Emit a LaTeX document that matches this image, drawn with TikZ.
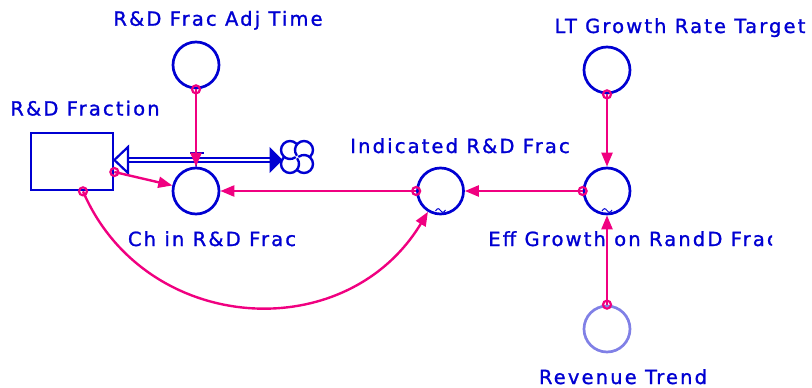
\documentclass[tikz,border=0pt]{standalone}
\usepackage{fontspec}
\setmainfont[LetterSpace=11,FakeBold=1.2]{DejaVu Sans}
\usetikzlibrary{arrows.meta,calc}
\definecolor{vblue}{RGB}{0,0,210}
\definecolor{vpink}{RGB}{240,0,128}
\definecolor{vlight}{RGB}{128,128,230}
\begin{document}
\begin{tikzpicture}[x=1pt,y=-1pt,
  aux/.style={circle, draw=vblue, line width=2.7pt, minimum size=46pt, inner sep=0pt},
  stockbox/.style={draw=vblue, line width=2.7pt, minimum width=82pt, minimum height=57pt, inner sep=0pt},
  lbl/.style={text=vblue, font=\fontsize{19.5}{22}\selectfont, anchor=base, inner sep=0pt},
  link/.style={vpink, line width=2.4pt, -{Triangle[length=14pt,width=11pt]}},
  tail/.style={circle, draw=vpink, line width=2.2pt, minimum size=8pt, inner sep=0pt},
  pipe/.style={vblue, line width=2.4pt, double=white, double distance=1.2pt},
  tildemark/.style={vblue, line width=1pt},
  cloudline/.style={vblue, line width=2.4pt, line cap=round}
]
\useasboundingbox (0,0) rectangle (812,388);

% nodes
\node[stockbox] (stock) at (72,161.5) {};
\node[aux] (adj) at (196,65) {};
\node[aux] (ch) at (196,191) {};
\node[aux] (ind) at (440.5,191) {};
\node[aux] (eff) at (607,191) {};
\node[aux] (lt) at (607,70) {};
\node[aux, draw=vlight] (rev) at (607,329) {};
\coordinate (cloud) at (297,157);

% cloud (pinwheel of four lobes)
\foreach \dx/\dy/\s in {-7/-7/45, 7/-7/315, 7/7/225, -7/7/135}{
  \draw[cloudline] ($(cloud)+(\dx,\dy)$) ++(\s:9pt) arc[start angle=\s, end angle=\s+260, radius=9pt];
}

% labels
\node[lbl] (lstock) at (85,115.5) {R\&D Fraction};
\node[lbl] (ladj) at (218,25.7) {R\&D Frac Adj Time};
\node[lbl] (lch) at (212,246) {Ch in R\&D Frac};
\node[lbl] (lind) at (460,153) {Indicated R\&D Frac};
\node[lbl] (llt) at (680,33) {LT Growth Rate Target};
\begin{scope}
\clip (0,0) rectangle (772,388);
\node[lbl] (leff) at (633,246) {Eff Growth on RandD Frac};
\end{scope}
\node[lbl] (lrev) at (623,384) {Revenue Trend};

% flow pipe
\coordinate (pipeL) at (128,160);
\coordinate (pipeR) at (270,160);
\coordinate (valveTop) at (197,153);
\draw[pipe] (pipeL) -- (pipeR);
\draw[vblue, line width=2.2pt, fill=white, line join=miter] (stock.east |- pipeL) -- (128,147) -- (128,173) -- cycle;
\draw[vblue, line width=1pt, fill=vblue] (pipeR) -- (270,148) -- (282,160) -- (270,172) -- cycle;
\draw[vblue, line width=2.2pt] ($(valveTop)+(-7,0)$) -- ($(valveTop)+(7,0)$);
\draw[vblue, line width=1.5pt] (valveTop) -- (ch.north);

% tilde marks
\draw[tildemark] (435.5,211) .. controls (437.5,208) and (438.5,208) .. (440.5,210.5) .. controls (442.5,213) and (443.5,213) .. (445.5,210);
\draw[tildemark] (602,211) .. controls (604,208) and (605,208) .. (607,210.5) .. controls (609,213) and (610,213) .. (612,210);

% connectors
\coordinate (tstockR) at ($(stock.east)+(0,10.5)$);
\coordinate (tstockB) at ($(stock.south)+(11,0)$);

\draw[link] (adj.south) -- (ch.north);
\node[tail] at (adj.south) {};

\draw[link] (tstockR) -- (ch);
\node[tail] at (tstockR) {};

\draw[link] (ind.west) -- (ch.east);
\node[tail] at (ind.west) {};

\draw[link] (eff.west) -- (ind.east);
\node[tail] at (eff.west) {};

\draw[link] (lt.south) -- (eff.north);
\node[tail] at (lt.south) {};

\draw[link] (rev.north) -- (eff.south);
\node[tail] at (rev.north) {};

\draw[link] (tstockB) .. controls (145,335) and (346,348) .. (ind);
\node[tail] at (tstockB) {};
\end{tikzpicture}
\end{document}
